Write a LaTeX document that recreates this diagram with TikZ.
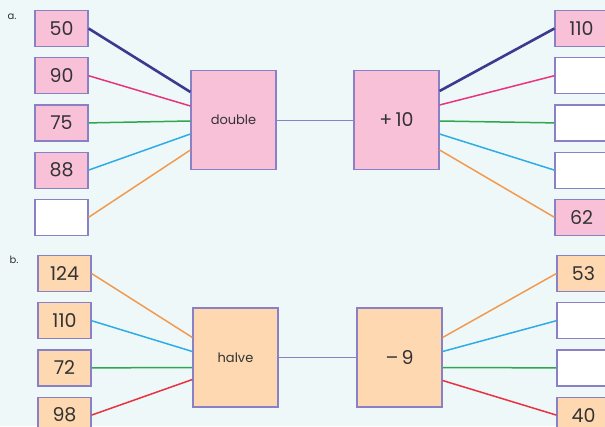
\documentclass[tikz,border=0pt]{standalone}
\usepackage{fontspec}
\setmainfont{Poppins}
\usetikzlibrary{positioning}

\definecolor{bgcyan}{HTML}{EEF8F9}
\definecolor{boxline}{HTML}{8A80C6}
\definecolor{pinkfill}{HTML}{F8C1D8}
\definecolor{orangefill}{HTML}{FDD8B0}
\definecolor{navyline}{HTML}{3B3A8E}
\definecolor{magline}{HTML}{E8347F}
\definecolor{greenline}{HTML}{2EA84E}
\definecolor{blueline}{HTML}{2FACE6}
\definecolor{orangeline}{HTML}{F29A4E}
\definecolor{redline}{HTML}{E8323F}
\definecolor{inkgray}{HTML}{333333}

\tikzset{
  numbox/.style={draw=boxline, line width=1.2pt, minimum width=53pt, minimum height=36pt,
                 inner sep=0pt, text=inkgray, font=\fontsize{19}{21}\selectfont},
  numa/.style={numbox, fill=pinkfill},
  numb/.style={numbox, fill=orangefill},
  blank/.style={numbox, fill=white},
  funbox/.style={draw=boxline, line width=1.2pt, minimum width=85pt, minimum height=99pt,
                 inner sep=0pt, text=inkgray},
  funa/.style={funbox, fill=pinkfill},
  funb/.style={funbox, fill=orangefill},
  lbl/.style={text=inkgray, font=\fontsize{10}{12}\selectfont},
  wire/.style={line width=1.5pt},
  link/.style={draw=boxline, line width=1pt}
}

\begin{document}
\begin{tikzpicture}[x=1pt,y=-1pt,node distance=10pt]
\useasboundingbox[fill=bgcyan] (0,0) rectangle (605,426);

% part a
\node[lbl] (la) at (12,17) {a.};
\node[numa] (a1) at (61.5,28.5) {50};
\node[numa] (a2)[below =of a1] {90};
\node[numa] (a3)[below =of a2] {75};
\node[numa] (a4)[below =of a3] {88};
\node[blank] (a5)[below =of a4] {};

\node[funa, font=\fontsize{13}{15}\selectfont] (dbl) at (233.5,120) {double};
\node[funa, font=\fontsize{19}{21}\selectfont] (plus) at (396.5,120) {+\,10};

\node[numa] (r1) at (581.5,28.5) {110};
\node[blank] (r2)[below =of r1] {};
\node[blank] (r3)[below =of r2] {};
\node[blank] (r4)[below =of r3] {};
\node[numa] (r5)[below =of r4] {62};

\draw[wire, navyline, line width=2.6pt] (a1.east) -- ([yshift=28pt]dbl.west);
\draw[wire, magline] (a2.east) -- ([yshift=14pt]dbl.west);
\draw[wire, greenline] (a3.east) -- ([yshift=-1pt]dbl.west);
\draw[wire, blueline] (a4.east) -- ([yshift=-14pt]dbl.west);
\draw[wire, orangeline] (a5.east) -- ([yshift=-30pt]dbl.west);
\draw[link] (dbl) -- (plus);
\draw[wire, navyline, line width=2.6pt] ([yshift=29pt]plus.east) -- (r1.west);
\draw[wire, magline] ([yshift=15pt]plus.east) -- (r2.west);
\draw[wire, greenline] ([yshift=-1pt]plus.east) -- (r3.west);
\draw[wire, blueline] ([yshift=-14pt]plus.east) -- (r4.west);
\draw[wire, orangeline] ([yshift=-30pt]plus.east) -- (r5.west);

% part b
\node[lbl] (lb) at (14,260) {b.};
\node[numb] (b1) at (64.5,273.5) {124};
\node[numb] (b2)[below =of b1] {110};
\node[numb] (b3)[below =of b2] {72};
\node[numb] (b4)[below =of b3] {98};

\node[funb, font=\fontsize{13}{15}\selectfont] (hlv) at (235.5,357.5) {halve};
\node[funb, font=\fontsize{19}{21}\selectfont] (minus) at (399.5,357.5) {–\,9};

\node[numb] (s1) at (583.5,273.5) {53};
\node[blank] (s2)[below =of s1] {};
\node[blank] (s3)[below =of s2] {};
\node[numb] (s4)[below =of s3] {40};

\draw[wire, orangeline] (b1.east) -- ([yshift=20pt]hlv.west);
\draw[wire, blueline] (b2.east) -- ([yshift=6pt]hlv.west);
\draw[wire, greenline] (b3.east) -- ([yshift=-10pt]hlv.west);
\draw[wire, redline] (b4.east) -- ([yshift=-22pt]hlv.west);
\draw[link] (hlv) -- (minus);
\draw[wire, orangeline] ([yshift=20pt]minus.east) -- (s1.west);
\draw[wire, blueline] ([yshift=6pt]minus.east) -- (s2.west);
\draw[wire, greenline] ([yshift=-10pt]minus.east) -- (s3.west);
\draw[wire, redline] ([yshift=-23pt]minus.east) -- (s4.west);
\end{tikzpicture}
\end{document}
